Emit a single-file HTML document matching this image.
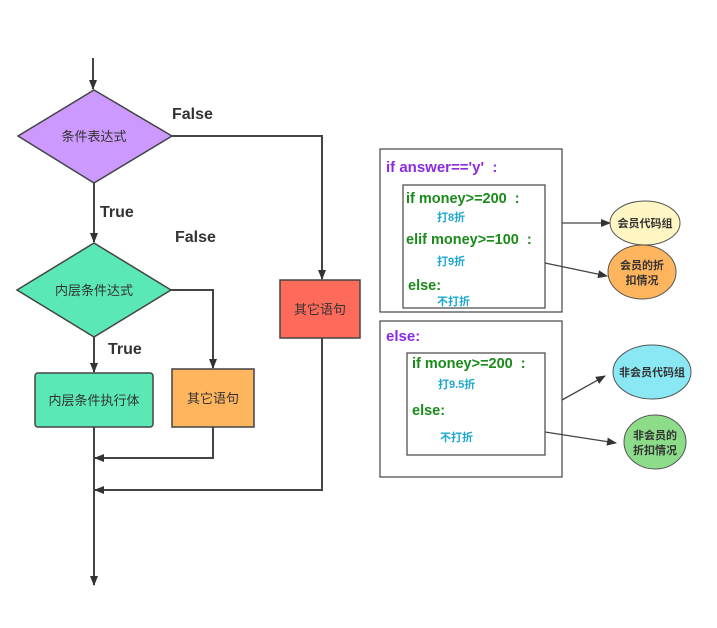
<!DOCTYPE html>
<html><head><meta charset="utf-8"><style>
html,body{margin:0;padding:0;background:#fff;}
svg text{font-family:"Liberation Sans","Noto Sans CJK SC",sans-serif;}
</style></head><body>
<svg width="717" height="623" viewBox="0 0 717 623" xmlns="http://www.w3.org/2000/svg">
<defs>
<marker id="a" markerWidth="10" markerHeight="10" refX="9" refY="5" orient="auto" markerUnits="userSpaceOnUse"><path d="M0,1 L10,5 L0,9 Z" fill="#333"/></marker>
</defs>
<g stroke="#444" stroke-width="2" fill="none">
<line x1="93" y1="58" x2="93" y2="89" marker-end="url(#a)"/>
<line x1="94" y1="183" x2="94" y2="242" marker-end="url(#a)"/>
<line x1="94" y1="337" x2="94" y2="372" marker-end="url(#a)"/>
<polyline points="172,136 322,136 322,279" marker-end="url(#a)"/>
<polyline points="171,290 213,290 213,368" marker-end="url(#a)"/>
<line x1="94" y1="427" x2="94" y2="585" marker-end="url(#a)"/>
<polyline points="213,427 213,458 95,458" marker-end="url(#a)"/>
<polyline points="322,338 322,490 95,490" marker-end="url(#a)"/>
</g>
<polygon points="94,90 172,136 94,183 18,136" fill="#cc99ff" stroke="#444" stroke-width="1.5"/>
<polygon points="94,243 171,290 94,337 17,290" fill="#5ae8b4" stroke="#444" stroke-width="1.5"/>
<rect x="280" y="280" width="80" height="58" fill="#ff6b5a" stroke="#444" stroke-width="1.5"/>
<rect x="35" y="373" width="118" height="54" rx="3" fill="#5ae8b4" stroke="#444" stroke-width="1.5"/>
<rect x="172" y="369" width="82" height="58" fill="#ffb45e" stroke="#444" stroke-width="1.5"/>
<g font-size="13" text-anchor="middle" fill="#333">
<text x="94" y="141">条件表达式</text>
<text x="94" y="295">内层条件达式</text>
<text x="320" y="314">其它语句</text>
<text x="94" y="405">内层条件执行体</text>
<text x="213" y="403">其它语句</text>
</g>
<g font-size="16" font-weight="bold" fill="#333">
<text x="172" y="119">False</text>
<text x="100" y="217">True</text>
<text x="175" y="242">False</text>
<text x="108" y="354">True</text>
</g>
<g fill="none" stroke="#444" stroke-width="1.2">
<rect x="380" y="149" width="182" height="163"/>
<rect x="403" y="185" width="142" height="123"/>
<rect x="380" y="321" width="182" height="156"/>
<rect x="407" y="353" width="138" height="102"/>
</g>
<g font-weight="bold">
<text x="386" y="172" font-size="15" fill="#8a2be2" xml:space="preserve">if answer=='y'  :</text>
<text x="406" y="203" font-size="14.5" fill="#1a8a1a" xml:space="preserve">if money&gt;=200  :</text>
<text x="437" y="221" font-size="11" fill="#1ea8d0">打8折</text>
<text x="406" y="244" font-size="14.5" fill="#1a8a1a" xml:space="preserve">elif money&gt;=100  :</text>
<text x="437" y="265" font-size="11" fill="#1ea8d0">打9折</text>
<text x="408" y="290" font-size="14.5" fill="#1a8a1a">else:</text>
<text x="437" y="305" font-size="11" fill="#1ea8d0">不打折</text>
<text x="386" y="341" font-size="15" fill="#8a2be2">else:</text>
<text x="412" y="368" font-size="14.5" fill="#1a8a1a" xml:space="preserve">if money&gt;=200  :</text>
<text x="438" y="388" font-size="11" fill="#1ea8d0">打9.5折</text>
<text x="412" y="415" font-size="14.5" fill="#1a8a1a">else:</text>
<text x="440" y="441" font-size="11" fill="#1ea8d0">不打折</text>
</g>
<g stroke="#444" stroke-width="1.3" fill="none">
<line x1="562" y1="223" x2="610" y2="223" marker-end="url(#a)"/>
<line x1="545" y1="263" x2="607" y2="276" marker-end="url(#a)"/>
<line x1="562" y1="400" x2="605" y2="376" marker-end="url(#a)"/>
<line x1="545" y1="432" x2="616" y2="443" marker-end="url(#a)"/>
</g>
<g stroke="#555" stroke-width="1">
<ellipse cx="645" cy="223" rx="35" ry="22" fill="#fff6c4"/>
<ellipse cx="642" cy="272" rx="34" ry="27" fill="#ffb45e"/>
<ellipse cx="652" cy="372" rx="39" ry="27" fill="#8ae8f5"/>
<ellipse cx="655" cy="442" rx="31" ry="27" fill="#8ddc8a"/>
</g>
<g font-size="11" font-weight="bold" fill="#333" text-anchor="middle">
<text x="645" y="227">会员代码组</text>
<text x="642" y="269">会员的折</text>
<text x="642" y="284">扣情况</text>
<text x="652" y="376">非会员代码组</text>
<text x="655" y="439">非会员的</text>
<text x="655" y="454">折扣情况</text>
</g>
</svg>
</body></html>
